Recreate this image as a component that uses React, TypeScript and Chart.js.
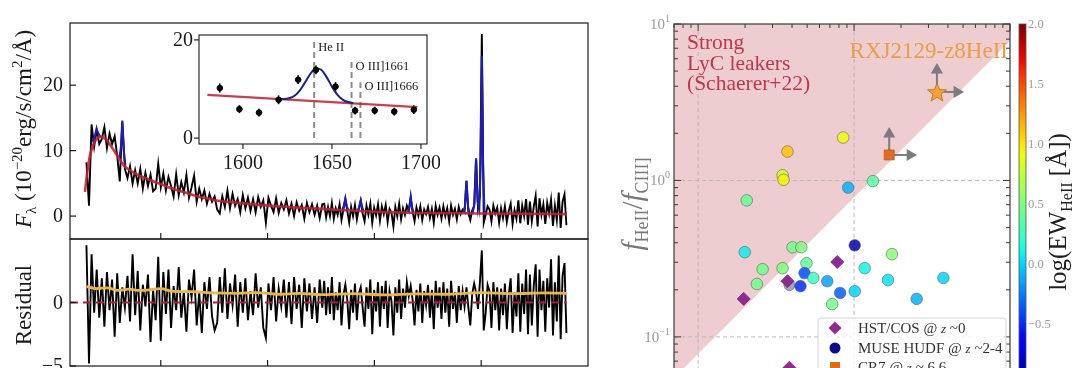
import { useEffect, useRef } from 'react';
import { Chart, registerables } from 'chart.js';

Chart.register(...registerables);

const SERIF = '"Liberation Serif", "DejaVu Serif", serif';

/* ================= LEFT PANEL: spectrum ================= */
// rest-frame wavelength [Å]
const specWave = [
  1304, 1328, 1352, 1376, 1400, 1424, 1448, 1472, 1496, 1520,
  1544, 1568, 1592, 1616, 1640, 1664, 1688, 1712, 1736, 1760,
  1784, 1808, 1832, 1856, 1880, 1904, 1928, 1952, 1976, 2000,
  2024, 2048, 2072, 2096, 2120, 2144, 2168, 2192, 2216, 2240,
  2264, 2288, 2312, 2336, 2360, 2384, 2408, 2432, 2456, 2480,
  2504, 2528, 2552, 2576, 2600, 2624, 2648, 2672, 2696, 2720,
  2744, 2768, 2792, 2816, 2840, 2864, 2888, 2912, 2936, 2960,
  2984, 3008, 3032, 3056, 3080, 3104, 3128, 3152, 3176, 3200,
  3224, 3248, 3272, 3296, 3320, 3344, 3368, 3392, 3416, 3440,
  3464, 3488, 3512,
  3530, 3548, 3566, 3584, 3602, 3620, 3638, 3656, 3674, 3692,
  3710, 3728, 3746, 3764, 3782, 3800, 3818, 3836, 3854, 3872,
  3890, 3908, 3926, 3944, 3962, 3980, 3998, 4016, 4034, 4052,
  4070, 4088, 4106, 4124, 4142, 4160, 4178, 4196, 4214, 4232,
  4250, 4268, 4286, 4304, 4322, 4340, 4358, 4376, 4394, 4412,
  4430, 4448, 4466, 4484, 4502, 4520, 4538, 4556, 4574, 4592,
  4610, 4628, 4646, 4664, 4682, 4700, 4718, 4736, 4754, 4772,
  4790, 4808, 4826, 4844, 4862, 4880, 4898, 4916, 4934, 4952,
  4970, 4988, 5006, 5024, 5042, 5060, 5078, 5096, 5114, 5132,
  5150, 5168, 5186, 5204, 5222, 5240, 5258, 5276, 5294, 5312,
  5330, 5348, 5366, 5384, 5402, 5420, 5438, 5456, 5474, 5492,
  5510, 5528, 5546, 5564, 5582, 5600, 5618, 5636, 5654, 5672,
  5690, 5708, 5726, 5744, 5762, 5780, 5798,
];
// F_lambda [1e-20 erg/s/cm2/Å]
const specFlux = [
  8.2, 1.6, 14.0, 10.6, 13.2, 11.0, 11.8, 13.6, 10.4, 12.6,
  11.0, 12.2, 9.2, 5.3, 14.3, 7.2, 5.8, 7.6, 5.0, 7.0,
  5.0, 7.2, 4.2, 6.6, 4.6, 6.3, 3.8, 4.2, 8.0, 4.4,
  6.5, 3.9, 6.0, 4.6, 3.0, 6.4, 3.2, 5.2, 3.6, 6.3,
  2.8, 4.4, 6.2, 2.2, 4.2, 2.6, 3.9, 1.9, 3.4, 2.2,
  3.0, 1.0, 0.4, 3.0, 1.4, 3.9, 1.2, 3.4, 1.6, 2.6,
  0.6, 3.2, 1.2, 2.8, 0.8, 2.6, 0.6, 2.9, 1.4, 2.4,
  -1.0, 2.8, 1.6, 0.6, 2.7, 0.5, 2.0, 1.0, 2.4, 0.4,
  1.9, 0.0, 2.1, 0.8, 1.7, -0.4, 2.0, 0.6, 1.8, 0.2,
  1.6, -0.3, 1.8,
  1.9, -0.2, 1.4, 0.0, 2.0, -0.4, 1.2, 0.2, 1.8, -0.6,
  1.0, 2.6, 0.8, -1.0, 1.4, 0.0, 1.7, -0.5, 1.2, 2.4,
  0.4, -0.8, 1.6, 0.2, 1.9, -1.0, 1.3, 0.1, 1.8, -0.7,
  1.5, 0.3, 1.7, -0.9, 1.1, 0.5, -1.6, 1.4, 0.0, 1.9,
  -0.5, 1.2, 0.2, 1.6, 0.8, 2.8, 0.6, -0.8, 1.3, 0.1,
  1.5, -0.6, 1.0, 0.3, 1.4, -0.3, 1.1, -1.0, 1.6, 0.2,
  1.3, -0.4, 1.5, 0.0, 1.2, -0.8, 1.6, 0.2, 1.1, -0.5,
  1.4, 0.3, 1.0, 0.6, 5.4, 0.5, -0.6, 0.9, 1.5, 8.8,
  1.2, 3.0, 27.8, -1.0, 0.2, 1.5, 1.0, -0.8, 1.6, 0.4,
  1.3, -1.0, 1.2, -0.3, 1.5, -0.9, 0.8, 1.9, -1.2, 0.9,
  -0.4, 2.4, -1.1, 1.6, 0.0, 2.6, -1.3, 2.2, -0.8, 1.4,
  3.1, -1.6, 2.7, 0.2, 1.8, -1.2, 2.0, 0.4, 2.5, -1.5,
  1.6, -0.6, 3.6, -1.8, 2.2, 3.3, -1.4,
];
// normalised residual
const specResid = [
  4.5, -4.8, 3.8, -0.8, 2.6, -1.2, 1.9, -1.9, 2.4, -0.6,
  1.8, -2.7, 2.3, -1.6, 1.2, -0.4, 2.1, -1.5, 3.8, -1.0,
  2.5, -2.2, 1.4, -0.3, 2.2, -3.1, 1.0, -1.4, 3.6, -3.0,
  2.4, -0.9, 2.6, -2.0, 1.3, -0.6, 2.8, -1.2, 0.9, -2.3,
  1.8, 0.4, 2.6, -1.8, 0.8, -2.4, 1.6, -0.5, 2.0, -1.1,
  -2.2, -1.6, 2.0, -0.8, 2.7, -1.3, 1.5, -0.2, 2.2, -1.9,
  1.6, -0.8, 1.9, -1.4, 0.9, -1.0, 2.3, -0.4, 1.2, -2.0,
  -2.8, 1.5, -0.6, 2.0, -1.5, 1.1, -0.3, 1.8, -1.2, 1.6,
  -1.7, 2.0, -0.5, 1.4, -2.0, 1.9, -0.7, 1.5, -1.3, 1.2,
  -1.6, 1.8, -0.4,
  1.7, -1.0, 1.2, -0.9, 2.0, -1.4, 0.8, -0.6, 1.6, -1.8,
  0.6, 1.4, 0.2, -2.1, 1.0, -0.8, 1.5, -1.4, 0.7, 1.2,
  -0.4, -1.9, 1.2, -0.5, 1.8, -2.5, 1.0, -0.7, 1.6, -1.9,
  1.3, -0.5, 1.7, -2.0, 0.9, 0.1, -2.6, 1.2, -0.8, 1.8,
  -1.3, 1.1, -0.4, 1.6, 0.5, 1.3, 0.2, -1.8, 1.0, -0.7,
  1.5, -1.6, 0.9, -0.2, 1.4, -1.2, 1.0, -2.1, 1.7, -0.4,
  1.2, -1.3, 1.6, -0.8, 1.1, -1.9, 1.7, -0.5, 0.8, -1.6,
  1.3, -0.6, 0.9, -0.3, 1.2, -0.4, -1.8, 0.7, 1.5, 0.8,
  -0.5, 1.6, 4.1, -2.2, -0.8, 1.4, 0.9, -2.0, 1.6, -0.6,
  1.2, -2.2, 1.1, -1.0, 1.5, -2.1, 0.6, 1.9, -2.4, 0.8,
  -1.1, 2.3, -2.3, 1.5, -0.9, 2.6, -2.5, 2.2, -1.8, 1.3,
  3.0, -2.7, 2.6, -0.6, 1.7, -2.3, 1.9, -0.4, 3.4, -2.6,
  1.6, -1.5, 3.7, -2.9, 2.1, 3.1, -2.4,
];
// continuum model (red)
const modelWave = [1290, 1310, 1340, 1380, 1430, 1480, 1530, 1590, 1656, 1720, 1785, 1860, 1946, 2030, 2107, 2190, 2268, 2350, 2430, 2558, 2752, 2900, 3074, 3396, 3719, 4041, 4363, 4700, 5008, 5524, 5800];
const modelFlux = [3.7, 6.5, 9.5, 11.3, 12.1, 11.8, 10.8, 9.3, 7.7, 6.9, 6.3, 5.8, 5.2, 4.7, 4.2, 3.8, 3.4, 3.0, 2.7, 2.3, 2.0, 1.75, 1.5, 1.2, 0.9, 0.65, 0.5, 0.45, 0.4, 0.35, 0.3];
// emission-line fits (blue), null = gap
const lineFitWave = [1360, 1380, 1398, 1416, 1434, 1500, 1612, 1626, 1640, 1654, 1668, 1700, 3700, 3714, 3728, 3742, 3756, 3800, 3844, 3858, 3872, 3886, 3900, 4000, 4314, 4327, 4340, 4353, 4366, 4500, 4832, 4847, 4862, 4877, 4892, 4920, 4937, 4952, 4967, 4982, 4995, 5006, 5017, 5030, 5045];
const lineFitFlux = [11.4, 12.0, 13.3, 12.6, 12.1, null, 8.9, 10.4, 14.6, 10.0, 7.7, null, 0.95, 1.6, 2.7, 1.5, 0.9, null, 0.85, 1.3, 2.35, 1.3, 0.8, null, 0.55, 1.3, 2.95, 1.3, 0.55, null, 0.45, 1.4, 5.4, 1.4, 0.45, 0.45, 2.0, 8.8, 2.2, 1.0, 8.0, 24.5, 8.0, 0.8, 0.4];
// residual running level (orange)
const residTrendWave = [1304, 1400, 1500, 1600, 1700, 1800, 1900, 2000, 2100, 2300, 2500, 2700, 2900, 3100, 3300, 3500, 3800, 4100, 4400, 4700, 5000, 5300, 5600, 5798];
const residTrendVal = [1.25, 1.1, 1.15, 0.95, 1.05, 0.95, 1.0, 1.1, 0.9, 0.85, 0.75, 0.72, 0.78, 0.65, 0.72, 0.62, 0.7, 0.6, 0.68, 0.65, 0.78, 0.7, 0.76, 0.72];
const zeroWave = [1150, 5800];
const zeroVal = [0, 0];
const mainXTicks = [2000, 3000, 4000, 5000];
const mainYTicks = [0, 10, 20];
const residYTicks = [-5, 0];

/* inset: He II 1640 */
const insetWave = [1587, 1598, 1609, 1620, 1631, 1641, 1652, 1663, 1674, 1685, 1696];
const insetFlux = [10.2, 5.9, 5.2, 7.8, 11.9, 13.9, 10.5, 5.6, 5.6, 5.4, 5.8];
const insetErr = [0.9, 0.8, 0.8, 0.9, 0.9, 0.9, 0.9, 0.8, 0.8, 0.8, 0.9];
const insetContWave = [1580, 1698];
const insetContFlux = [8.8, 6.3];
const insetFitWave = [1620, 1623, 1626, 1629, 1632, 1635, 1638, 1641, 1644, 1647, 1650, 1653, 1656, 1659, 1662];
const insetFitFlux = [7.92, 7.94, 8.11, 8.64, 9.74, 11.41, 13.16, 14.2, 13.91, 12.42, 10.49, 8.87, 7.85, 7.34, 7.12];
const insetMarkWave = [1640, 1661, 1666];
const insetMarkTop = [19.6, 15.5, 11.4];
const insetMarkLabel = ['He II', 'O III]1661', 'O III]1666'];
const insetMarkLabelY = [18.4, 14.5, 10.4];
const insetXTicks = [1600, 1650, 1700];
const insetYTicks = [0, 20];

/* ================= RIGHT PANEL ================= */
const sampleX = [0.851, 0.374, 0.348, 0.353, 1.32, 0.916, 0.205, 0.199, 0.403, 0.459, 1.01, 1.75, 0.495, 0.259, 0.348, 1.17, 0.481, 0.548, 0.673, 1.65, 3.74, 0.238, 0.453, 0.814, 1.01, 0.724, 2.52];
const sampleY = [1.88, 1.53, 1.08, 1.01, 0.99, 0.90, 0.746, 0.348, 0.374, 0.374, 0.385, 0.338, 0.296, 0.271, 0.275, 0.275, 0.256, 0.238, 0.227, 0.231, 0.238, 0.218, 0.211, 0.191, 0.196, 0.162, 0.175];
const sampleLogEW = [0.92, 1.1, 0.8, 0.95, 0.35, -0.1, 0.4, 0.08, 0.45, 0.5, -0.85, 0.55, 0.4, 0.45, 0.5, 0.1, -0.4, 0.25, -0.15, 0.05, 0.0, 0.45, -0.5, -0.35, 0.0, 0.45, -0.1];
const cosX = [0.780, 0.374, 0.196, 0.385];
const cosY = [0.301, 0.227, 0.175, 0.0635];
const noEwX = [0.385];
const noEwY = [0.214];
const cr7X = [1.68];
const cr7Y = [1.455];
const rxjX = [3.40];
const rxjY = [3.68];
const arrowFromX = [3.40, 3.40, 1.68, 1.68];
const arrowFromY = [3.68, 3.68, 1.455, 1.455];
const arrowToX = [3.40, 4.58, 1.68, 2.29];
const arrowToY = [5.08, 3.68, 1.98, 1.455];
const arrowRot = [0, 90, 0, 90];
const leakerBoundX = [0.07, 10];
const leakerBoundY = [0.0546, 7.8];
const rightMajor = [0.1, 1, 10];
const rightMinorX = [0.07, 0.08, 0.09, 0.2, 0.3, 0.4, 0.5, 0.6, 0.7, 0.8, 0.9, 2, 3, 4, 5, 6, 7, 8, 9];
const rightMinorY = [0.05, 0.06, 0.07, 0.08, 0.09, 0.2, 0.3, 0.4, 0.5, 0.6, 0.7, 0.8, 0.9, 2, 3, 4, 5, 6, 7, 8, 9];
const rightGrid = [0.1, 1];
const rightYTickVals = [10, 1, 0.1];
const rightYTickExp = ['1', '0', '−1'];
const cbarTicks = [2.0, 1.5, 1.0, 0.5, 0.0, -0.5, -1.0];
const EW_MIN = -1;
const EW_MAX = 2;
const legendLabels = [
  ['HST/COS @ ', 'z', ' ~0'],
  ['MUSE HUDF @ ', 'z', ' ~2-4'],
  ['CR7 @ ', 'z', ' ~ 6.6'],
];

/* ================= helpers ================= */
const zip = (xs: number[], ys: (number | null)[]) => xs.map((x, i) => ({ x, y: ys[i] }));

type Seg = { t: string; size: number; italic?: boolean; dy?: number };
const fontOf = (s: Seg) => `${s.italic ? 'italic ' : ''}${s.size}px ${SERIF}`;

function drawRich(ctx: CanvasRenderingContext2D, segs: Seg[], x: number, y: number, align: string, color: string, rot = 0) {
  ctx.save();
  ctx.translate(x, y);
  if (rot) ctx.rotate(rot);
  ctx.fillStyle = color;
  ctx.textBaseline = 'alphabetic';
  ctx.textAlign = 'left';
  const ws = segs.map((s) => {
    ctx.font = fontOf(s);
    return ctx.measureText(s.t).width;
  });
  const total = ws.reduce((a, b) => a + b, 0);
  let cx = align === 'center' ? -total / 2 : align === 'right' ? -total : 0;
  segs.forEach((s, i) => {
    ctx.font = fontOf(s);
    ctx.fillText(s.t, cx, s.dy || 0);
    cx += ws[i];
  });
  ctx.restore();
}

function seg(ctx: CanvasRenderingContext2D, x1: number, y1: number, x2: number, y2: number) {
  ctx.beginPath();
  ctx.moveTo(x1, y1);
  ctx.lineTo(x2, y2);
  ctx.stroke();
}

const fmt = (v: number) => (v < 0 ? '−' + String(-v) : String(v));

function interp(t: number, xs: number[], ys: number[]) {
  for (let i = 1; i < xs.length; i++) {
    if (t <= xs[i]) {
      const f = (t - xs[i - 1]) / (xs[i] - xs[i - 1]);
      return ys[i - 1] + f * (ys[i] - ys[i - 1]);
    }
  }
  return ys[ys.length - 1];
}
function jet(t: number, alpha = 1) {
  const u = Math.max(0, Math.min(1, t));
  const r = interp(u, [0, 0.35, 0.66, 0.89, 1], [0, 0, 1, 1, 0.5]);
  const g = interp(u, [0, 0.125, 0.375, 0.64, 0.91, 1], [0, 0, 1, 1, 0, 0]);
  const b = interp(u, [0, 0.11, 0.34, 0.65, 1], [0.5, 1, 1, 0, 0]);
  return `rgba(${Math.round(r * 255)},${Math.round(g * 255)},${Math.round(b * 255)},${alpha})`;
}
const ewColor = (v: number, a = 1) => jet((v - EW_MIN) / (EW_MAX - EW_MIN), a);

function makeStar(size: number, fill: string, stroke: string) {
  const c = document.createElement('canvas');
  c.width = size;
  c.height = size;
  const g = c.getContext('2d')!;
  const R = size / 2 - 1;
  const r = R * 0.42;
  g.beginPath();
  for (let i = 0; i < 10; i++) {
    const ang = -Math.PI / 2 + (i * Math.PI) / 5;
    const rad = i % 2 === 0 ? R : r;
    const px = size / 2 + rad * Math.cos(ang);
    const py = size / 2 + 1 + rad * Math.sin(ang);
    if (i === 0) g.moveTo(px, py);
    else g.lineTo(px, py);
  }
  g.closePath();
  g.fillStyle = fill;
  g.fill();
  g.strokeStyle = stroke;
  g.lineWidth = 1;
  g.stroke();
  return c;
}

const baseOpts = {
  responsive: false,
  animation: false,
  events: [],
  devicePixelRatio: 1,
  plugins: { legend: { display: false }, tooltip: { enabled: false } },
};

/* ================= plugins ================= */
const mainPlugin = {
  id: 'mainDecor',
  afterDraw(chart: any) {
    const { ctx, chartArea: a } = chart;
    const xs = chart.scales.x;
    const ys = chart.scales.y;
    ctx.save();
    ctx.strokeStyle = '#1a1a1a';
    ctx.lineWidth = 1.2;
    ctx.strokeRect(a.left, a.top, a.right - a.left, a.bottom - a.top);
    for (const v of mainXTicks) {
      const px = xs.getPixelForValue(v);
      seg(ctx, px, a.bottom, px, a.bottom - 6);
    }
    ctx.fillStyle = '#1a1a1a';
    ctx.font = `20px ${SERIF}`;
    ctx.textAlign = 'right';
    ctx.textBaseline = 'middle';
    for (const v of mainYTicks) {
      const py = ys.getPixelForValue(v);
      seg(ctx, a.left, py, a.left + 6, py);
      ctx.fillText(fmt(v), a.left - 7, py + 1);
    }
    drawRich(
      ctx,
      [
        { t: 'F', size: 23, italic: true },
        { t: 'λ', size: 15, dy: 5 },
        { t: ' (10', size: 23 },
        { t: '−20', size: 15, dy: -9 },
        { t: 'erg/s/cm', size: 23 },
        { t: '2', size: 15, dy: -9 },
        { t: '/Å)', size: 23 },
      ],
      31,
      129,
      'center',
      '#1a1a1a',
      -Math.PI / 2
    );
    ctx.restore();
  },
};

const residPlugin = {
  id: 'residDecor',
  afterDraw(chart: any) {
    const { ctx, chartArea: a } = chart;
    const xs = chart.scales.x;
    const ys = chart.scales.y;
    ctx.save();
    ctx.strokeStyle = '#1a1a1a';
    ctx.lineWidth = 1.2;
    ctx.strokeRect(a.left, a.top, a.right - a.left, a.bottom - a.top);
    for (const v of mainXTicks) {
      const px = xs.getPixelForValue(v);
      seg(ctx, px, a.bottom, px, a.bottom - 6);
    }
    ctx.fillStyle = '#1a1a1a';
    ctx.font = `20px ${SERIF}`;
    ctx.textAlign = 'right';
    ctx.textBaseline = 'middle';
    for (const v of residYTicks) {
      const py = ys.getPixelForValue(v);
      seg(ctx, a.left, py, a.left + 6, py);
      ctx.fillText(fmt(v), a.left - 7, py + 1);
    }
    drawRich(ctx, [{ t: 'Residual', size: 23 }], 31, 67, 'center', '#1a1a1a', -Math.PI / 2);
    ctx.restore();
  },
};

const insetPlugin = {
  id: 'insetDecor',
  beforeDraw(chart: any) {
    const { ctx, chartArea: a } = chart;
    ctx.save();
    ctx.fillStyle = '#ffffff';
    ctx.fillRect(a.left, a.top, a.right - a.left, a.bottom - a.top);
    ctx.restore();
  },
  beforeDatasetsDraw(chart: any) {
    const { ctx } = chart;
    const xs = chart.scales.x;
    const ys = chart.scales.y;
    ctx.save();
    ctx.strokeStyle = '#000';
    ctx.lineWidth = 1.6;
    insetWave.forEach((w, i) => {
      const px = xs.getPixelForValue(w);
      seg(ctx, px, ys.getPixelForValue(insetFlux[i] - insetErr[i]), px, ys.getPixelForValue(insetFlux[i] + insetErr[i]));
    });
    ctx.restore();
  },
  afterDraw(chart: any) {
    const { ctx, chartArea: a } = chart;
    const xs = chart.scales.x;
    const ys = chart.scales.y;
    ctx.save();
    ctx.strokeStyle = '#1a1a1a';
    ctx.lineWidth = 1.1;
    ctx.strokeRect(a.left, a.top, a.right - a.left, a.bottom - a.top);
    ctx.fillStyle = '#1a1a1a';
    ctx.font = `20px ${SERIF}`;
    ctx.textAlign = 'center';
    ctx.textBaseline = 'middle';
    for (const v of insetXTicks) {
      const px = xs.getPixelForValue(v);
      seg(ctx, px, a.bottom, px, a.bottom + 5);
      ctx.fillText(String(v), px, a.bottom + 20);
    }
    ctx.textAlign = 'right';
    for (const v of insetYTicks) {
      const py = ys.getPixelForValue(v);
      seg(ctx, a.left, py, a.left - 5, py);
      ctx.fillText(String(v), a.left - 6, py + 1);
    }
    ctx.font = `12.5px ${SERIF}`;
    ctx.textAlign = 'left';
    insetMarkLabel.forEach((t, i) => {
      ctx.fillText(t, xs.getPixelForValue(insetMarkWave[i]) + 4, ys.getPixelForValue(insetMarkLabelY[i]));
    });
    ctx.restore();
  },
};

const PINK_INDEX = 0;
const rightPlugin = {
  id: 'rightDecor',
  afterDatasetDraw(chart: any, args: any) {
    if (args.index !== PINK_INDEX) return;
    const { ctx, chartArea: a } = chart;
    const xs = chart.scales.x;
    const ys = chart.scales.y;
    ctx.save();
    ctx.strokeStyle = '#b4b4b4';
    ctx.lineWidth = 0.9;
    ctx.setLineDash([4, 3]);
    for (const v of rightGrid) {
      const px = xs.getPixelForValue(v);
      seg(ctx, px, a.top, px, a.bottom);
      const py = ys.getPixelForValue(v);
      seg(ctx, a.left, py, a.right, py);
    }
    ctx.restore();
  },
  afterDraw(chart: any) {
    const { ctx, chartArea: a } = chart;
    const xs = chart.scales.x;
    const ys = chart.scales.y;
    ctx.save();
    // frame + inward ticks
    ctx.strokeStyle = '#3a3a3a';
    ctx.lineWidth = 1.2;
    ctx.strokeRect(a.left, a.top, a.right - a.left, a.bottom - a.top);
    const tickY = (v: number, len: number) => {
      const py = ys.getPixelForValue(v);
      seg(ctx, a.left, py, a.left + len, py);
      seg(ctx, a.right, py, a.right - len, py);
    };
    const tickX = (v: number, len: number) => {
      const px = xs.getPixelForValue(v);
      seg(ctx, px, a.top, px, a.top + len);
      seg(ctx, px, a.bottom, px, a.bottom - len);
    };
    ctx.lineWidth = 1;
    rightMajor.forEach((v) => { tickY(v, 7); tickX(v, 7); });
    rightMinorY.forEach((v) => tickY(v, 4));
    rightMinorX.forEach((v) => tickX(v, 4));
    // y tick labels
    rightYTickVals.forEach((v, i) => {
      const py = ys.getPixelForValue(v);
      drawRich(ctx, [{ t: '10', size: 15 }, { t: rightYTickExp[i], size: 10, dy: -7 }], a.left - 4, py + 5, 'right', '#999999');
    });
    // y axis label
    drawRich(
      ctx,
      [
        { t: 'f', size: 29, italic: true },
        { t: 'HeII', size: 18, dy: 6 },
        { t: '/', size: 29 },
        { t: 'f', size: 29, italic: true },
        { t: 'CIII]', size: 18, dy: 6 },
      ],
      42,
      204,
      'center',
      '#777777',
      -Math.PI / 2
    );
    // region labels
    ['Strong', 'LyC leakers', '(Schaerer+22)'].forEach((t, i) => {
      drawRich(ctx, [{ t, size: 21.5 }], 87, 49 + i * 20.5, 'left', '#c0364a');
    });
    drawRich(ctx, [{ t: 'RXJ2129-z8HeII', size: 23 }], 408, 58, 'right', '#eb9d48');
    // legend
    const lx = 218;
    const ly = 318;
    ctx.fillStyle = 'rgba(255,255,255,0.85)';
    ctx.strokeStyle = '#d4d4d4';
    ctx.lineWidth = 1;
    ctx.beginPath();
    ctx.roundRect(lx, ly, 188, 66, 3);
    ctx.fill();
    ctx.stroke();
    const mx = 235;
    const rows = [328, 348, 367];
    // diamond
    ctx.fillStyle = '#8e2c8e';
    ctx.beginPath();
    ctx.moveTo(mx, rows[0] - 6.5);
    ctx.lineTo(mx + 6.5, rows[0]);
    ctx.lineTo(mx, rows[0] + 6.5);
    ctx.lineTo(mx - 6.5, rows[0]);
    ctx.closePath();
    ctx.fill();
    // circle
    ctx.fillStyle = '#0c0c8c';
    ctx.beginPath();
    ctx.arc(mx, rows[1], 5.5, 0, Math.PI * 2);
    ctx.fill();
    // square
    ctx.fillStyle = '#e36b1c';
    ctx.fillRect(mx - 5, rows[2] - 5, 10, 10);
    legendLabels.forEach((p, i) => {
      drawRich(ctx, [{ t: p[0], size: 15 }, { t: p[1], size: 13, italic: true }, { t: p[2], size: 15 }], 258, rows[i] + 5, 'left', '#333333');
    });
    // colourbar
    const cx0 = 419;
    const cw = 7;
    const cy0 = ys.top;
    const cy1 = ys.bottom;
    const grad = ctx.createLinearGradient(0, cy1, 0, cy0);
    for (let k = 0; k <= 30; k++) grad.addColorStop(k / 30, jet(k / 30));
    ctx.fillStyle = grad;
    ctx.fillRect(cx0, cy0, cw, cy1 - cy0);
    ctx.strokeStyle = '#555';
    ctx.lineWidth = 0.8;
    ctx.strokeRect(cx0, cy0, cw, cy1 - cy0);
    ctx.fillStyle = '#9a9a9a';
    ctx.font = `12.5px ${SERIF}`;
    ctx.textAlign = 'left';
    ctx.textBaseline = 'middle';
    cbarTicks.forEach((v) => {
      const py = cy0 + ((EW_MAX - v) / (EW_MAX - EW_MIN)) * (cy1 - cy0);
      ctx.fillText(v < 0 ? '−' + (-v).toFixed(1) : v.toFixed(1), cx0 + cw + 2, py + 1);
    });
    drawRich(
      ctx,
      [{ t: 'log(EW', size: 25 }, { t: 'HeII', size: 16, dy: 6 }, { t: ' [Å])', size: 25 }],
      466,
      212,
      'center',
      '#1e1e1e',
      -Math.PI / 2
    );
    ctx.restore();
  },
};

/* ================= configs ================= */
function mainConfig(): any {
  return {
    type: 'line',
    data: {
      datasets: [
        { data: zip(modelWave, modelFlux), borderColor: 'rgba(200,30,52,0.88)', borderWidth: 2.6, pointRadius: 0, cubicInterpolationMode: 'monotone', order: 1 },
        { data: zip(lineFitWave, lineFitFlux), borderColor: '#1d1db4', borderWidth: 2.1, pointRadius: 0, spanGaps: false, order: 2 },
        { data: zip(specWave, specFlux), borderColor: '#000000', borderWidth: 1.9, pointRadius: 0, order: 3 },
      ],
    },
    options: {
      ...baseOpts,
      layout: { padding: { left: 70, right: 12, top: 23, bottom: 2 } },
      scales: {
        x: { type: 'linear', min: 1150, max: 6000, display: false },
        y: { type: 'linear', min: -3.5, max: 29.5, display: false },
      },
    },
    plugins: [mainPlugin],
  };
}

function residConfig(): any {
  return {
    type: 'line',
    data: {
      datasets: [
        { data: zip(zeroWave, zeroVal), borderColor: '#b01e32', borderWidth: 2.2, borderDash: [8, 5], pointRadius: 0, order: 1 },
        { data: zip(residTrendWave, residTrendVal), borderColor: '#f2b440', borderWidth: 2.8, pointRadius: 0, cubicInterpolationMode: 'monotone', order: 2 },
        { data: zip(specWave, specResid), borderColor: '#000000', borderWidth: 1.9, pointRadius: 0, order: 3 },
      ],
    },
    options: {
      ...baseOpts,
      layout: { padding: { left: 70, right: 12, top: 1, bottom: 22 } },
      scales: {
        x: { type: 'linear', min: 1150, max: 6000, display: false },
        y: { type: 'linear', min: -5, max: 5, display: false },
      },
    },
    plugins: [residPlugin],
  };
}

function insetConfig(): any {
  const marks = insetMarkWave.map((w, i) => ({
    data: [{ x: w, y: 0 }, { x: w, y: insetMarkTop[i] }],
    borderColor: '#8c8c8c',
    borderWidth: 2,
    borderDash: [6, 4],
    pointRadius: 0,
    order: 5,
  }));
  return {
    type: 'line',
    data: {
      datasets: [
        { data: zip(insetWave, insetFlux), showLine: false, pointRadius: 2.8, pointBackgroundColor: '#000', pointBorderColor: '#000', order: 1 },
        { data: zip(insetFitWave, insetFitFlux), borderColor: '#1b2585', borderWidth: 2, pointRadius: 0, cubicInterpolationMode: 'monotone', order: 2 },
        { data: zip(insetContWave, insetContFlux), borderColor: 'rgba(200,40,60,0.9)', borderWidth: 2.4, pointRadius: 0, order: 3 },
        ...marks,
      ],
    },
    options: {
      ...baseOpts,
      layout: { padding: { left: 49, right: 13, top: 5, bottom: 36 } },
      scales: {
        x: { type: 'linear', min: 1575.3, max: 1703.4, display: false },
        y: { type: 'linear', min: -1.2, max: 21, display: false },
      },
    },
    plugins: [insetPlugin],
  };
}

function rightConfig(): any {
  const star = makeStar(22, '#f2a23a', '#c47a1c');
  const arrows = arrowFromX.map((fx, i) => ({
    data: [{ x: fx, y: arrowFromY[i] }, { x: arrowToX[i], y: arrowToY[i] }],
    borderColor: '#7c7c7c',
    borderWidth: 2,
    pointRadius: [0, 5],
    pointStyle: 'triangle',
    pointRotation: [0, arrowRot[i]],
    pointBackgroundColor: '#7c7c7c',
    pointBorderColor: '#7c7c7c',
    showLine: true,
    order: 6,
  }));
  return {
    type: 'line',
    data: {
      datasets: [
        {
          data: zip(leakerBoundX, leakerBoundY),
          borderWidth: 0,
          pointRadius: 0,
          fill: 'end',
          backgroundColor: '#eecdd0',
          borderColor: 'rgba(0,0,0,0)',
          order: 10,
        },
        ...arrows,
        { data: zip(noEwX, noEwY), showLine: false, pointRadius: 5.5, pointBackgroundColor: '#9aaabb', pointBorderColor: 'rgba(90,90,90,0.7)', pointBorderWidth: 0.8, order: 5 },
        {
          data: zip(sampleX, sampleY),
          showLine: false,
          pointRadius: 5.8,
          pointBackgroundColor: sampleLogEW.map((v) => ewColor(v, 0.85)),
          pointBorderColor: 'rgba(90,90,90,0.7)',
          pointBorderWidth: 0.8,
          order: 4,
        },
        { data: zip(cosX, cosY), showLine: false, pointStyle: 'rectRot', pointRadius: 6.5, pointBackgroundColor: '#8e2c8e', pointBorderColor: '#8e2c8e', order: 3 },
        { data: zip(cr7X, cr7Y), showLine: false, pointStyle: 'rect', pointRadius: 7, pointBackgroundColor: '#e36b1c', pointBorderColor: '#c0561a', pointBorderWidth: 0.8, order: 2 },
        { data: zip(rxjX, rxjY), showLine: false, pointStyle: star, pointRadius: 10, order: 1 },
      ],
    },
    options: {
      ...baseOpts,
      layout: { padding: { left: 74, right: 70, top: 24, bottom: 16 } },
      scales: {
        x: { type: 'logarithmic', min: 0.07, max: 10, display: false },
        y: { type: 'logarithmic', min: 0.05, max: 10, display: false },
      },
    },
    plugins: [rightPlugin],
  };
}

export default function App() {
  const mainRef = useRef<HTMLCanvasElement>(null);
  const residRef = useRef<HTMLCanvasElement>(null);
  const insetRef = useRef<HTMLCanvasElement>(null);
  const rightRef = useRef<HTMLCanvasElement>(null);

  useEffect(() => {
    const charts = [
      new Chart(mainRef.current!, mainConfig()),
      new Chart(residRef.current!, residConfig()),
      new Chart(insetRef.current!, insetConfig()),
      new Chart(rightRef.current!, rightConfig()),
    ];
    return () => charts.forEach((c) => c.destroy());
  }, []);

  const abs = (left: number, top: number, w: number, h: number) => ({
    position: 'absolute' as const,
    left,
    top,
    width: w,
    height: h,
  });

  return (
    <div style={{ position: 'absolute', left: 0, top: 0, width: 1080, height: 368, overflow: 'hidden', background: '#ffffff' }}>
      <canvas ref={mainRef} width={600} height={241} style={abs(0, 0, 600, 241)} />
      <canvas ref={residRef} width={600} height={150} style={abs(0, 238, 600, 150)} />
      <canvas ref={insetRef} width={290} height={150} style={abs(150, 30, 290, 150)} />
      <canvas ref={rightRef} width={480} height={400} style={abs(600, 0, 480, 400)} />
    </div>
  );
}
